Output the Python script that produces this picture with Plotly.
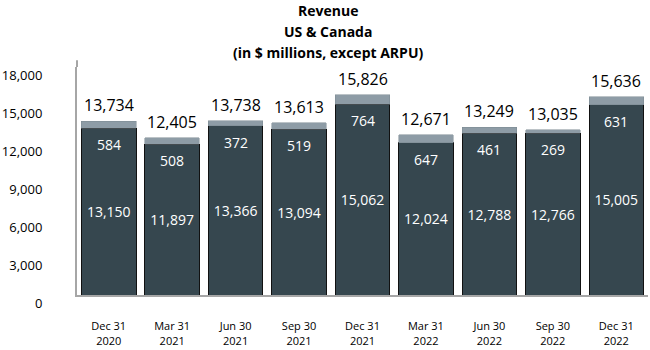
import plotly.graph_objects as go

categories = ["Dec 31<br>2020", "Mar 31<br>2021", "Jun 30<br>2021", "Sep 30<br>2021",
              "Dec 31<br>2021", "Mar 31<br>2022", "Jun 30<br>2022", "Sep 30<br>2022",
              "Dec 31<br>2022"]
streaming = [13150, 11897, 13366, 13094, 15062, 12024, 12788, 12766, 15005]
other = [584, 508, 372, 519, 764, 647, 461, 269, 631]
totals = [13734, 12405, 13738, 13613, 15826, 12671, 13249, 13035, 15636]
y_ticks = [0, 3000, 6000, 9000, 12000, 15000, 18000]
title_lines = ["Revenue", "US & Canada", "(in $ millions, except ARPU)"]

FONT = "Open Sans"
DARK = "#36474f"
LIGHT = "#8e9ca6"

fig = go.Figure()
fig.add_trace(go.Bar(
    x=categories, y=streaming, marker=dict(color=DARK, line=dict(color="#111111", width=1)),
    text=[f"{v:,}" for v in streaming], textposition="inside", insidetextanchor="middle",
    textfont=dict(color="white", size=14, family=FONT), showlegend=False,
))
fig.add_trace(go.Bar(
    x=categories, y=other, marker=dict(color=LIGHT, line=dict(color="#7a8790", width=0.5)),
    showlegend=False, hoverinfo="skip",
))

for c, s, o, t in zip(categories, streaming, other, totals):
    fig.add_annotation(x=c, y=s, text=f"{o:,}", showarrow=False, yanchor="top", yshift=-5,
                       font=dict(color="white", size=14, family=FONT))
    fig.add_annotation(x=c, y=t, text=f"{t:,}", showarrow=False, yanchor="bottom", yshift=3,
                       font=dict(color="black", size=16, family=FONT))

# title lines as separate annotations for exact line spacing
for i, line in enumerate(title_lines):
    fig.add_annotation(xref="paper", yref="paper", x=0.439, y=1, xanchor="center",
                       yanchor="middle", yshift=15 + 21 * (len(title_lines) - 1 - i),
                       text=f"<b>{line}</b>", showarrow=False,
                       font=dict(size=14, family=FONT, color="black"))

# slight extension of the value axis line above the top tick
fig.add_shape(type="line", xref="paper", yref="paper", x0=0, x1=0, y0=1, y1=1.03,
              line=dict(color="#a6a6a6", width=2))

fig.update_layout(
    barmode="stack", bargap=0.14,
    width=650, height=350,
    margin=dict(l=74, r=2, t=67, b=48),
    paper_bgcolor="white", plot_bgcolor="white",
    font=dict(family=FONT, color="black"),
)
fig.update_xaxes(showline=True, linecolor="#a6a6a6", linewidth=2, ticks="",
                 tickfont=dict(size=11, family=FONT), ticklabelstandoff=20)
fig.update_yaxes(range=[0, 18000], tickvals=y_ticks, tickformat=",d", showgrid=False,
                 zeroline=False, showline=True, linecolor="#a6a6a6", linewidth=2,
                 tickfont=dict(size=13, family=FONT), ticklabelstandoff=30,
                 ticklabelshift=8)

fig.write_html("out.html")
